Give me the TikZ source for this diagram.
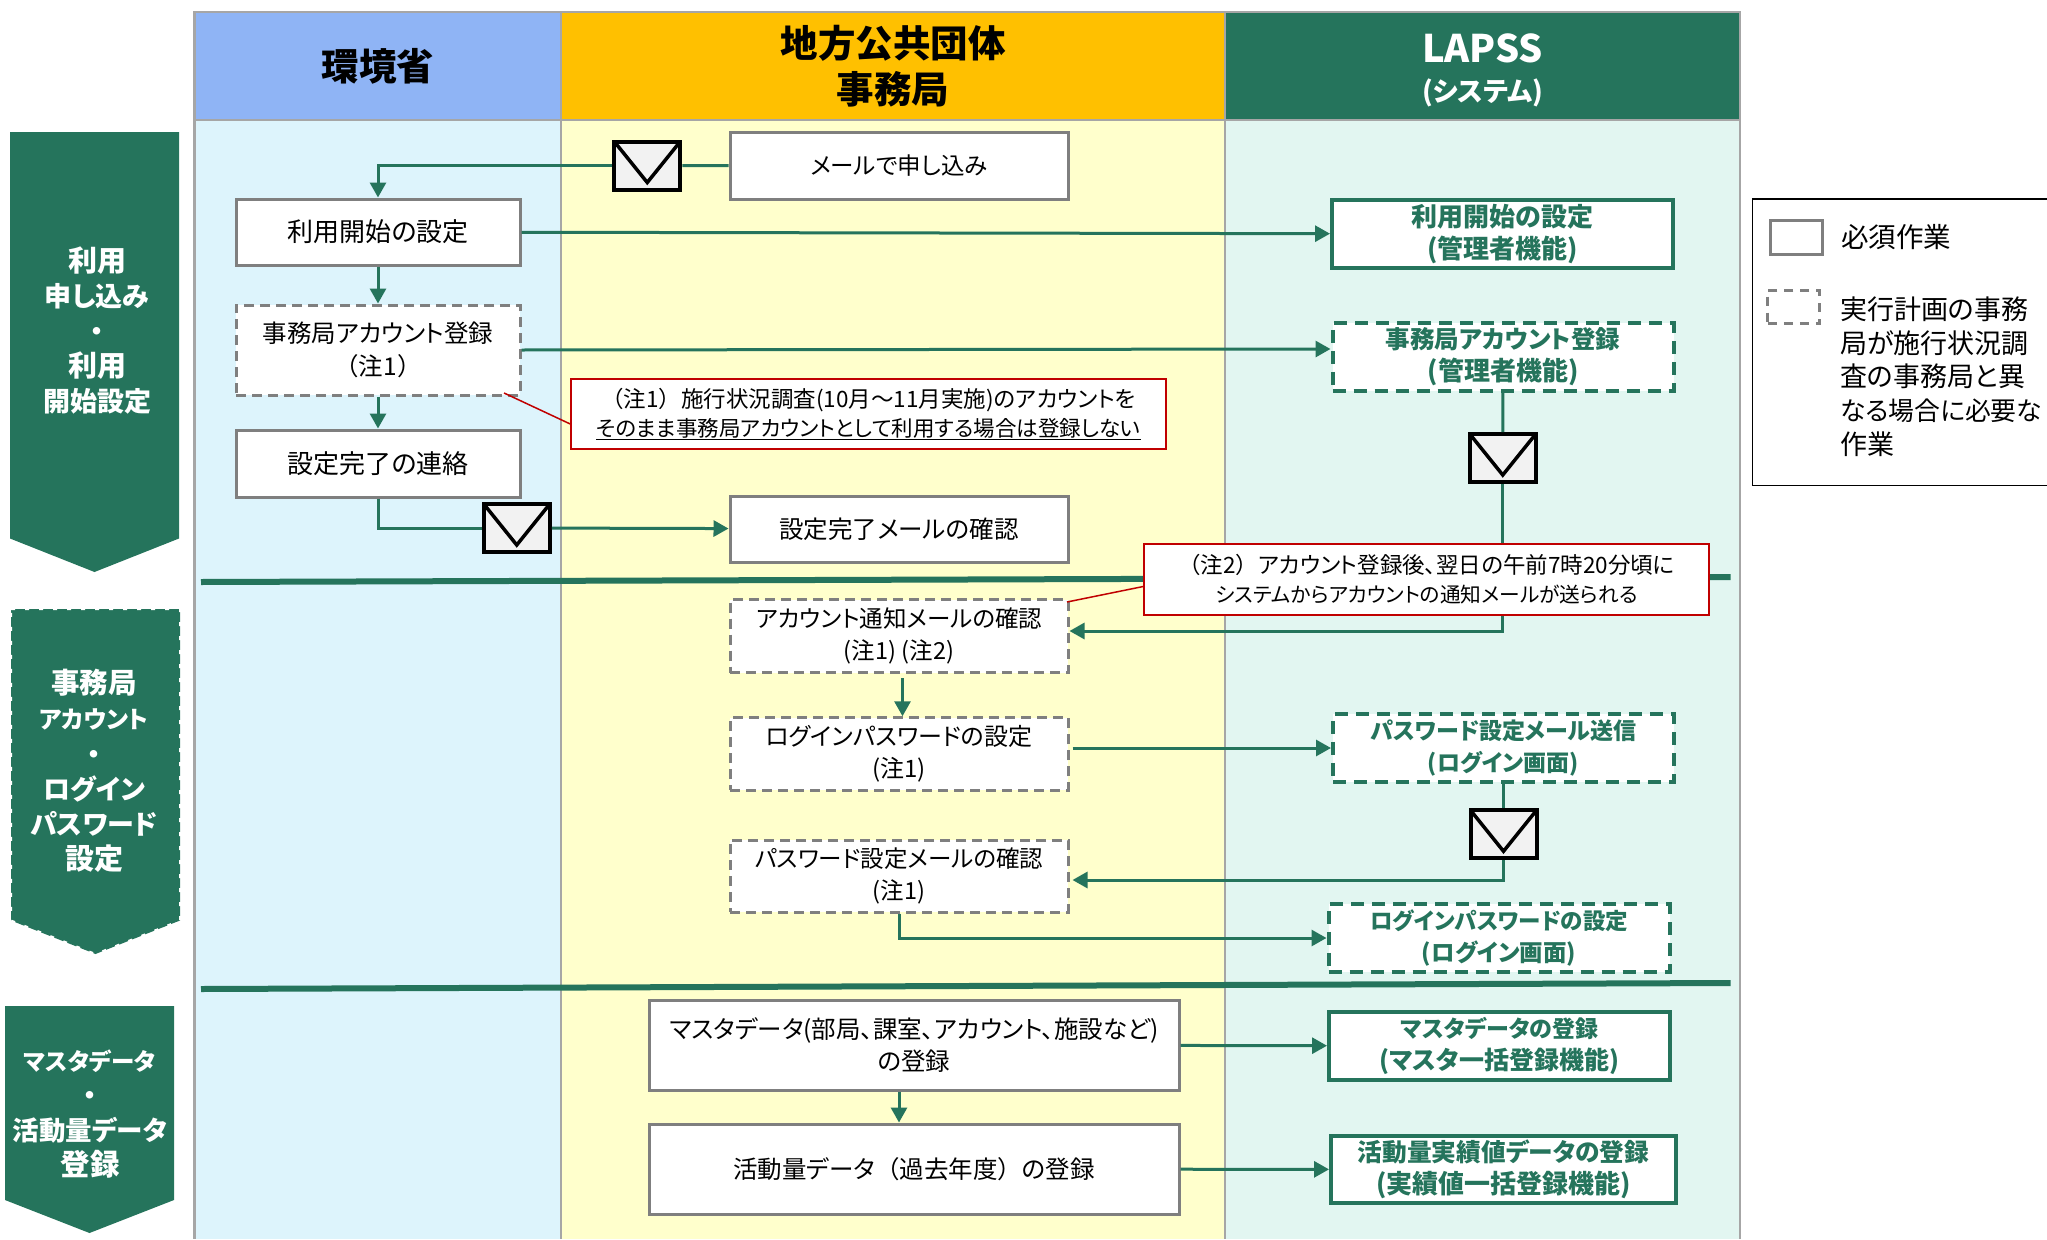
\documentclass[tikz,border=0pt]{standalone}
\usepackage{fontspec}
\setmainfont{Noto Sans CJK JP}[RawFeature=+palt]
\newfontfamily\fullw{Noto Sans CJK JP}
\usepackage{tikz}
\usetikzlibrary{arrows.meta}
\definecolor{lapss}{HTML}{25745C}
\definecolor{frame}{HTML}{A6A6A6}
\definecolor{boxline}{HTML}{7F7F7F}
\definecolor{notered}{HTML}{C00000}
\definecolor{laneblue}{HTML}{DDF4FC}
\definecolor{laneyellow}{HTML}{FFFFCC}
\definecolor{lanemint}{HTML}{E2F6F1}
\definecolor{headblue}{HTML}{8FB4F5}
\definecolor{headorange}{HTML}{FFC000}
\newcommand{\fs}[2]{\fontsize{#1}{#2}\selectfont}

\begin{document}
\begin{tikzpicture}[x=1pt, y=-1pt]
\tikzstyle{head}=[rectangle, draw=frame, line width=2.5pt, minimum height=108pt, align=center, font=\fs{37.5}{46}\bfseries]
\tikzstyle{body}=[rectangle, fill=white, draw=boxline, line width=3pt, align=center, font=\fs{24.5}{32.5}]
\tikzstyle{opt}=[body, dash pattern=on 10pt off 6pt]
\tikzstyle{sys}=[rectangle, fill=white, draw=lapss, line width=4pt, minimum width=341pt, minimum height=67.5pt, inner sep=0pt, align=center, text=lapss, font=\fs{24}{32}\bfseries]
\tikzstyle{sysopt}=[sys, dash pattern=on 13pt off 8pt]
\tikzstyle{note}=[rectangle, fill=white, draw=notered, line width=1.5pt, align=center, font=\fs{21}{29}]
\tikzstyle{mail}=[rectangle, fill=black!5, draw=black, line width=4pt, minimum width=66pt, minimum height=48pt, inner sep=0pt]
\tikzstyle{phase}=[text=white, align=center, font=\fs{27}{35.2}\bfseries]
\tikzstyle{connect}=[draw=lapss, line width=3pt, -{Triangle[length=15pt, width=16pt]}]
\tikzstyle{plain}=[draw=lapss, line width=3pt]
\useasboundingbox (0,0) rectangle (2047,1239);
% columns
\fill[laneblue] (194.5,120) rectangle (561,1239);
\fill[laneyellow] (561,120) rectangle (1225,1239);
\fill[lanemint] (1225,120) rectangle (1740,1239);
\draw[draw=frame, line width=2.5pt] (194.5,120) -- (194.5,1239) (561,120) -- (561,1239) (1225,120) -- (1225,1239) (1740,120) -- (1740,1239);
\node[head, fill=headblue, minimum width=366.5pt] (hEnv) at (377.75,66) {環境省};
\node[head, fill=headorange, minimum width=664pt] (hLocal) at (893,66) {地方公共団体\\事務局};
\node[head, fill=lapss, text=white, minimum width=515pt, font=\fs{38}{46}\bfseries] (hSys) at (1482.5,66) {\rule{0pt}{38pt}LAPSS\\[-6.5pt]\fs{27}{34}(システム)};
% phases
\fill[lapss] (10,132) -- (179,132) -- (179,538.5) -- (94.5,572) -- (10,538.5) -- cycle;
\fill[lapss] (11,609) -- (180,609) -- (180,920.5) -- (95.5,954) -- (11,920.5) -- cycle;
\draw[white, line width=2pt, dash pattern=on 4pt off 10pt] (11,609) -- (180,609) -- (180,920.5) -- (95.5,954) -- (11,920.5) -- cycle;
\fill[lapss] (5,1006) -- (174,1006) -- (174,1200) -- (89.5,1233) -- (5,1200) -- cycle;
\node[phase] (p1) at (97,330.5) {\fs{29}{35.2}利用\\\fs{27}{35.2}申し込み\\・\\\fs{29}{35.2}利用\\開始設定};
\node[phase] (p2) at (94,771) {\fs{28.5}{35.2}事務局\\\fs{24}{35.2}アカウント\\・\\ログイン\\パスワード\\\fs{29}{35.2}設定};
\node[phase] (p3) at (90,1114) {\fs{23.5}{35.2}マスタデータ\\・\\\fs{26.5}{35.2}活動量データ\\\fs{29.5}{35.2}登録};
% separators
\draw[draw=lapss, line width=6pt] (201,582) -- (1730.5,577);
\draw[draw=lapss, line width=6pt] (201,989) -- (1730.5,983);
% steps
\node[body, font=\fs{23.5}{32.5}, minimum width=338pt, minimum height=66.5pt] (apply) at (899,165.75) {メールで申し込み};
\node[body, font=\fs{26}{32.5}, minimum width=284pt, minimum height=66pt] (start) at (378,232) {利用開始の設定};
\node[opt, minimum width=284pt, minimum height=90pt] (acct) at (378,350) {事務局アカウント登録\\{\fullw（}注1{\fullw）}};
\node[body, font=\fs{26}{32.5}, minimum width=284pt, minimum height=67pt] (contact) at (378,463.5) {設定完了の連絡};
\node[body, minimum width=338pt, minimum height=66pt] (done) at (899,529) {設定完了メールの確認};
\node[opt, font=\fs{23.5}{32.5}, minimum width=338pt, minimum height=73pt] (notice) at (899,636) {アカウント通知メールの確認\\(注1) (注2)};
\node[opt, font=\fs{24}{32.5}, minimum width=338pt, minimum height=72.5pt] (login) at (899,754) {ログインパスワードの設定\\(注1)};
\node[opt, font=\fs{23.5}{32.5}, minimum width=338pt, minimum height=72pt] (pwcheck) at (899,876) {パスワード設定メールの確認\\(注1)};
\node[body, minimum width=530pt, minimum height=90pt] (master) at (914,1045) {マスタデータ(部局、課室、アカウント、施設など)\\の登録};
\node[body, minimum width=530pt, minimum height=90pt] (activity) at (914,1169) {活動量データ{\fullw（}過去年度{\fullw）}の登録};
\node[sys, font=\fs{26}{32}\bfseries] (rstart) at (1502.5,234) {利用開始の設定\\(管理者機能)};
\node[sysopt, font=\fs{24.5}{32}\bfseries] (racct) at (1503,357) {事務局アカウント登録\\\fs{26}{32}(管理者機能)};
\node[sysopt, font=\fs{23}{32}\bfseries] (rsend) at (1503.5,748) {パスワード設定メール送信\\(ログイン画面)};
\node[sysopt, font=\fs{22.5}{32}\bfseries] (rlogin) at (1499,938) {ログインパスワードの設定\\\fs{23.5}{32}(ログイン画面)};
\node[sys, font=\fs{23}{32}\bfseries] (rmaster) at (1499.5,1046) {マスタデータの登録\\\fs{25}{32}(マスタ一括登録機能)};
\node[sys, minimum width=345pt, font=\fs{24.7}{32}\bfseries] (ract) at (1503.5,1169.5) {活動量実績値データの登録\\\fs{26}{32}(実績値一括登録機能)};
% mail
\node[mail] (m1) at (647.25,165.5) {};
\node[mail] (m2) at (516.75,528) {};
\node[mail] (m3) at (1502.75,458) {};
\node[mail] (m4) at (1503.5,834.25) {};
\foreach \m in {m1, m2, m3, m4} {
  \draw[black, line width=3.5pt] ([xshift=2pt,yshift=-2pt]\m.north west) -- ([yshift=9pt]\m.south) -- ([xshift=-2pt,yshift=-2pt]\m.north east);
}
% flows
\draw[plain] (apply) -- (m1);
\draw[connect] (m1) -| (start);
\path (start) edge [connect] (rstart);
\path (start) edge [connect] (acct);
\path (acct) edge [connect] (contact);
\draw[connect] (acct.east) -- ([yshift=8pt]racct.west);
\draw[plain] (contact) |- (m2);
\draw[connect] (m2) -- (done);
\draw[plain] (racct) -- (m3);
\draw[connect] (m3) |- ([yshift=5pt]notice.east);
\draw[connect] ([xshift=3.5pt,yshift=-4pt]notice.south) -- ([xshift=3.5pt]login.north);
\draw[connect] ([xshift=3pt,yshift=6pt]login.east) -- (rsend.west);
\draw[plain] (rsend) -- (m4);
\draw[connect] (m4) |- ([xshift=3pt,yshift=-4pt]pwcheck.east);
\draw[connect] (pwcheck) |- (rlogin);
\path (master) edge [connect] (rmaster);
\draw[connect] ([xshift=-15pt]master.south) -- ([xshift=-15pt]activity.north);
\path (activity) edge [connect] (ract);
% notes
\node[note, minimum width=595pt, minimum height=70pt] (n1) at (868.5,414) {\fs{22.5}{29}{\fullw（}注1{\fullw）}施行状況調査(10月～11月実施)のアカウントを\\\fs{21.5}{29}\underline{そのまま事務局アカウントとして利用する場合は登録しない}};
\node[note, minimum width=565pt, minimum height=71pt] (n2) at (1426.5,579.5) {\fs{22.5}{29}{\fullw（}注2{\fullw）}アカウント登録後、翌日の午前7時20分頃に\\\fs{20.7}{29}システムからアカウントの通知メールが送られる};
\coordinate (a1) at (504,393);
\coordinate (a2) at (1067,602);
\draw[draw=notered, line width=1.5pt] (a1) -- ([yshift=-10pt]n1.west);
\draw[draw=notered, line width=1.5pt] (a2) -- ([yshift=-7pt]n2.west);
% legend
\coordinate (lgA) at (2047,199);
\coordinate (lgB) at (2047,485.5);
\draw[black, line width=1.5pt] (lgA) -- (1752.5,199) -- (1752.5,485.5) -- (lgB);
\node[rectangle, draw=boxline, line width=3pt, minimum width=52pt, minimum height=34pt] (k1) at (1796,237.6) {};
\node[rectangle, draw=boxline, line width=3pt, dash pattern=on 9pt off 7pt, minimum width=52pt, minimum height=33.5pt] (k2) at (1793.75,306.75) {};
\node[anchor=west, inner sep=0pt, font=\fs{27.5}{33.7}] (t1) at (1841,237) {必須作業};
\node[anchor=north west, inner sep=0pt, align=left, font=\fs{27}{33.7}] (t2) at (1840,296.5) {実行計画の事務\\局が施行状況調\\査の事務局と異\\\fs{25.8}{33.7}なる場合に必要な\\\fs{27}{33.7}作業};
\end{tikzpicture}
\end{document}
